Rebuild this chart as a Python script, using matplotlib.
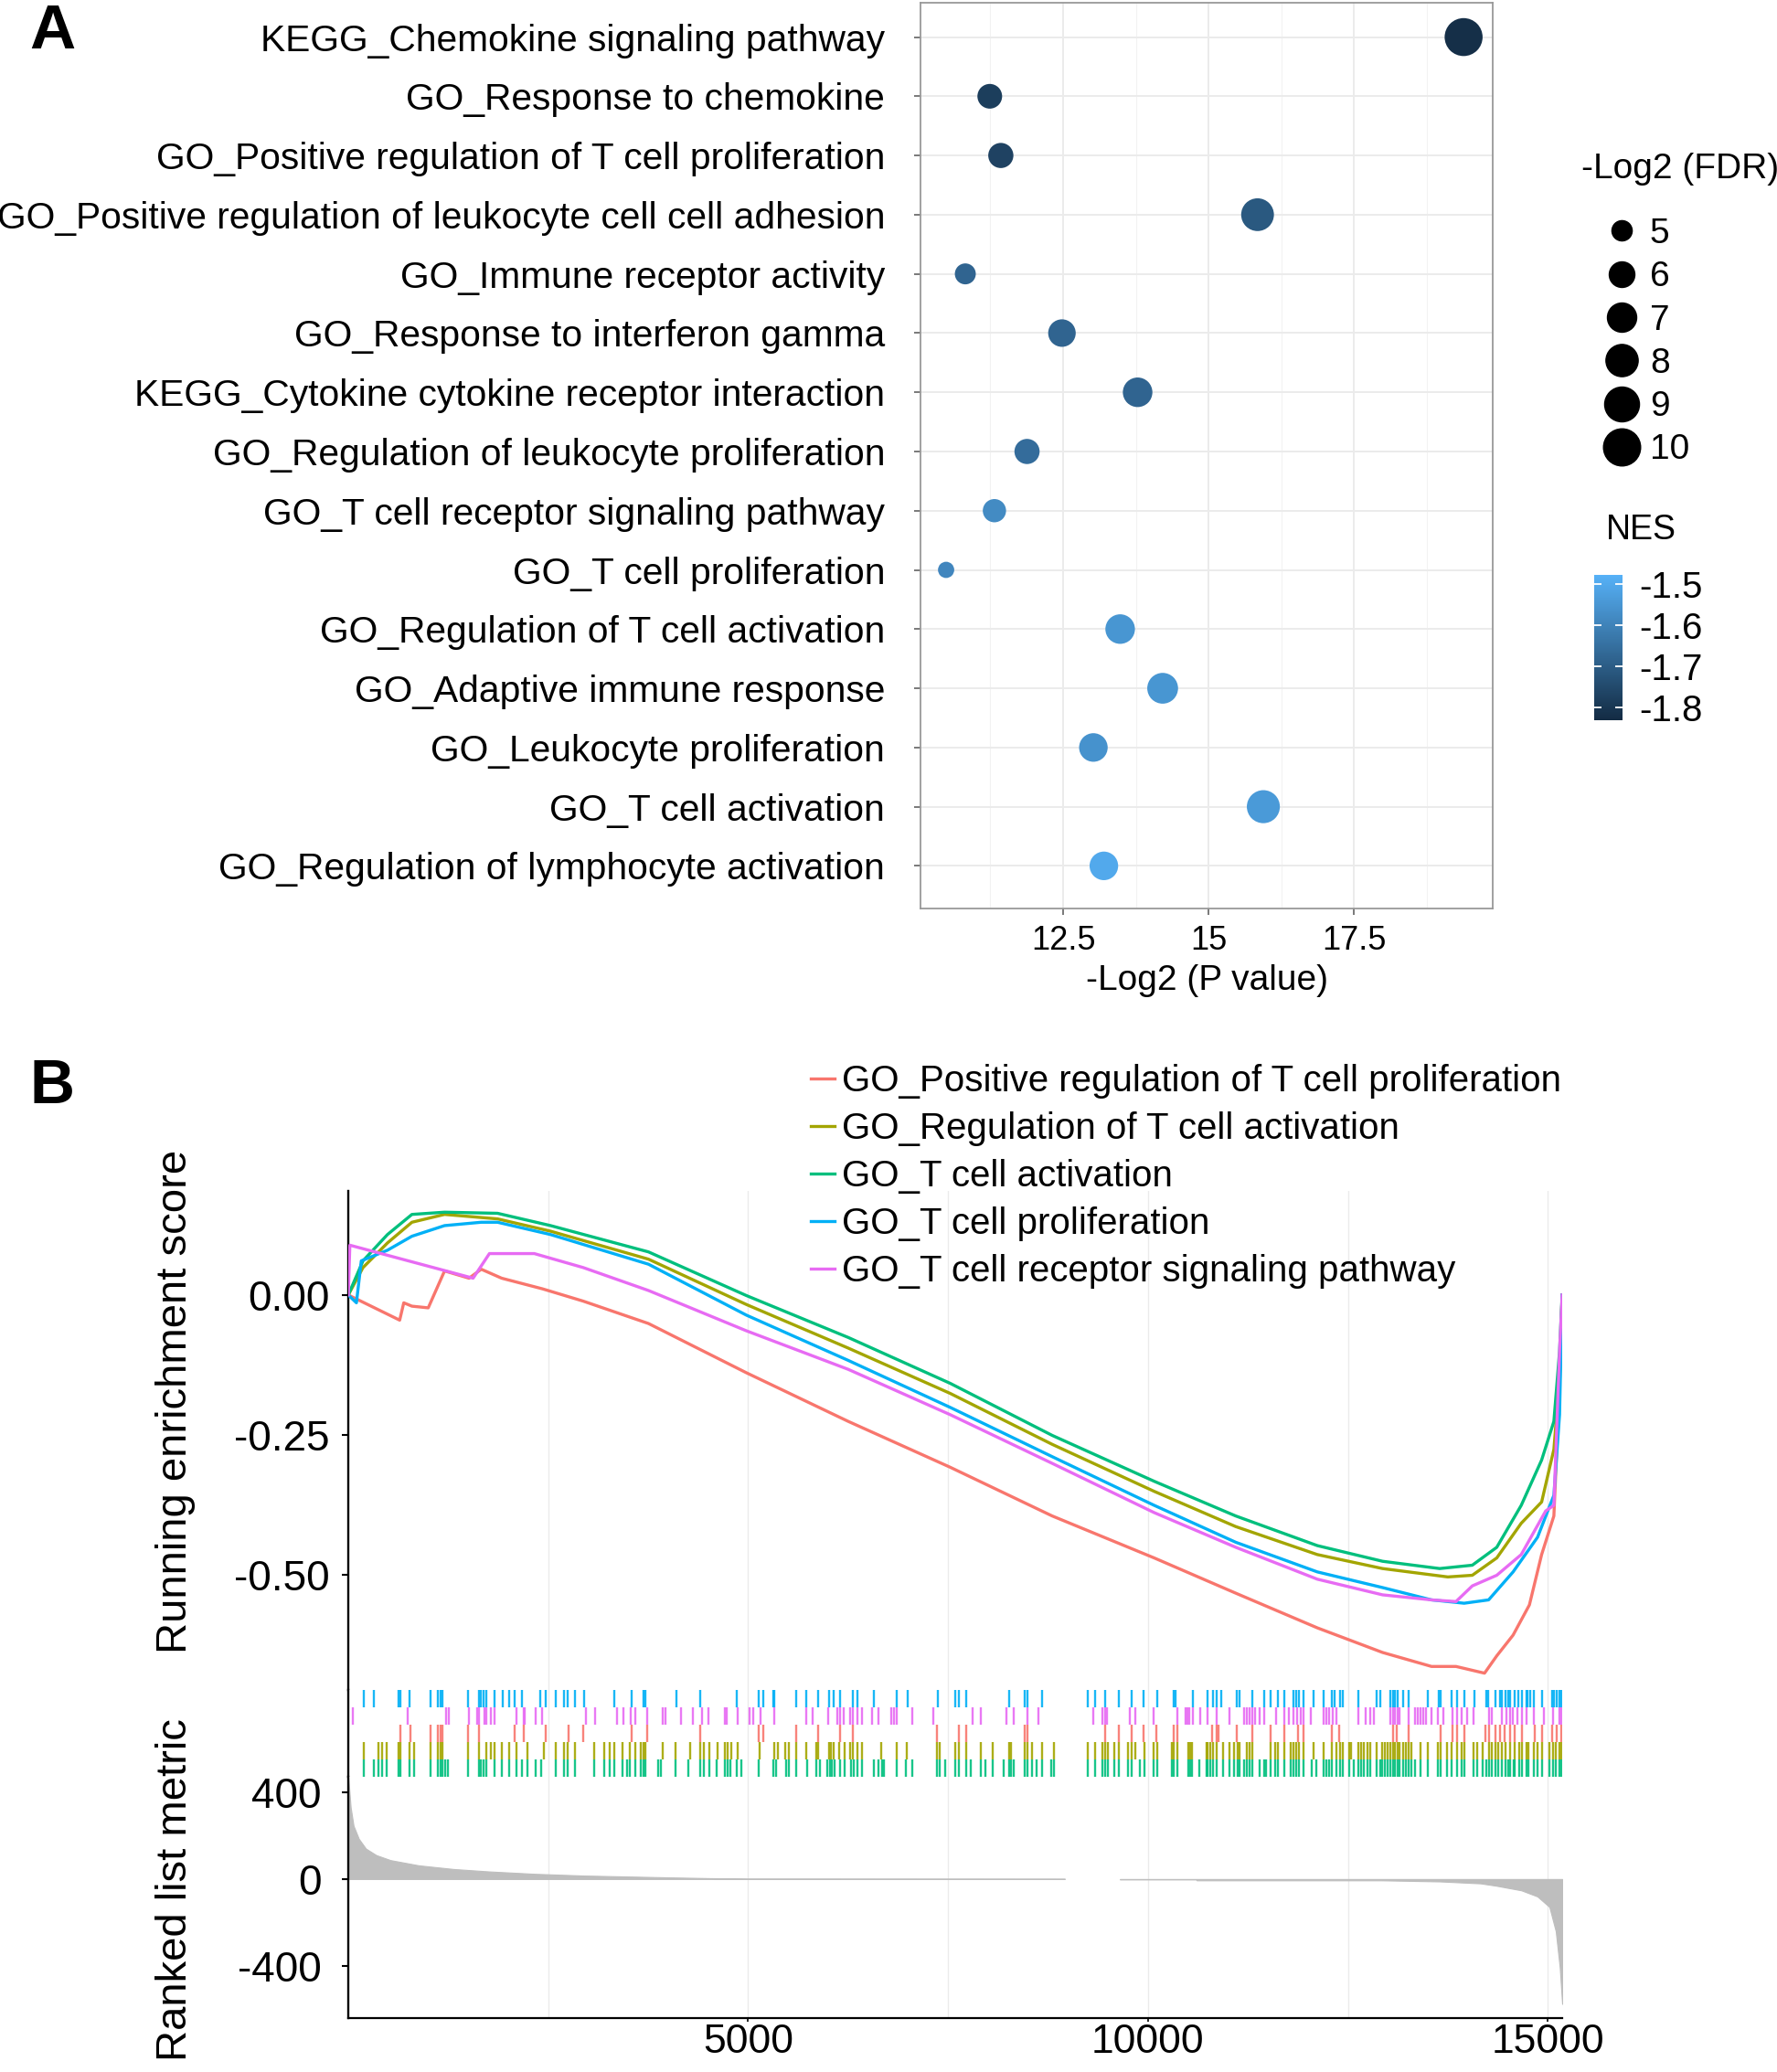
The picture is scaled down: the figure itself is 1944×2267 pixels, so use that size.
"""
GSEA summary figure: (A) bubble plot of enriched gene sets,
(B) running enrichment score curves with hit barcodes and ranked list metric.
"""

import numpy as np
import matplotlib
matplotlib.use("Agg")
import matplotlib.pyplot as plt
from matplotlib.colors import LinearSegmentedColormap, Normalize
from matplotlib.cm import ScalarMappable
from matplotlib.lines import Line2D

plt.rcParams["font.family"] = ["Liberation Sans", "DejaVu Sans"]
plt.rcParams["axes.unicode_minus"] = False

# ---------------------------------------------------------------------------
# PANEL A DATA
# ---------------------------------------------------------------------------

TERMS = [
    "KEGG_Chemokine signaling pathway",
    "GO_Response to chemokine",
    "GO_Positive regulation of T cell proliferation",
    "GO_Positive regulation of leukocyte cell cell adhesion",
    "GO_Immune receptor activity",
    "GO_Response to interferon gamma",
    "KEGG_Cytokine cytokine receptor interaction",
    "GO_Regulation of leukocyte proliferation",
    "GO_T cell receptor signaling pathway",
    "GO_T cell proliferation",
    "GO_Regulation of T cell activation",
    "GO_Adaptive immune response",
    "GO_Leukocyte proliferation",
    "GO_T cell activation",
    "GO_Regulation of lymphocyte activation",
]
NEG_LOG2_P = [19.38, 11.24, 11.43, 15.84, 10.82, 12.48, 13.78, 11.88,
              11.32, 10.49, 13.48, 14.21, 13.02, 15.94, 13.20]
NEG_LOG2_FDR = [10.4, 5.8, 5.9, 8.2, 5.1, 6.5, 7.1, 5.9,
                5.5, 4.6, 7.1, 7.5, 6.8, 8.3, 6.8]
NES = [-1.82, -1.78, -1.77, -1.71, -1.68, -1.68, -1.68, -1.66,
       -1.58, -1.59, -1.55, -1.55, -1.56, -1.54, -1.50]

FDR_LEGEND = [5, 6, 7, 8, 9, 10]
NES_TICKS = [-1.5, -1.6, -1.7, -1.8]
P_TICKS = [12.5, 15, 17.5]
P_TICK_LABELS = ["12.5", "15", "17.5"]

# ---------------------------------------------------------------------------
# PANEL B DATA
# ---------------------------------------------------------------------------

GENE_SETS = [
    "GO_Positive regulation of T cell proliferation",
    "GO_Regulation of T cell activation",
    "GO_T cell activation",
    "GO_T cell proliferation",
    "GO_T cell receptor signaling pathway",
]
SET_COLORS = ["#F8766D", "#A3A500", "#00BF7D", "#00B0F6", "#E76BF3"]

# running enrichment score, read at knots along the ranked list
RANK_RED = [0, 643, 694, 796, 1000, 1204, 1510, 1663, 1918, 2428, 2938, 3754,
            4978, 6253, 7528, 8803, 10078, 11098, 12118, 12934, 13546, 13852,
            14209, 14362, 14566, 14770, 14923, 15076, 15147, 15180]
ES_RED = [0, -0.045, -0.014, -0.020, -0.023, 0.043, 0.030, 0.046, 0.030, 0.011,
          -0.011, -0.051, -0.139, -0.226, -0.308, -0.395, -0.470, -0.533,
          -0.595, -0.639, -0.664, -0.664, -0.676, -0.645, -0.608, -0.554,
          -0.464, -0.395, -0.164, 0]

RANK_OLIVE = [0, 184, 490, 796, 1204, 1867, 2530, 3754, 4978, 6253, 7528, 8803,
              10078, 11098, 12118, 12934, 13750, 14056, 14362, 14668, 14923,
              15076, 15147, 15180]
ES_OLIVE = [0, 0.049, 0.093, 0.130, 0.144, 0.136, 0.114, 0.064, -0.017, -0.095,
            -0.176, -0.267, -0.351, -0.414, -0.464, -0.489, -0.504, -0.501,
            -0.470, -0.408, -0.370, -0.276, -0.151, 0]

RANK_GREEN = [0, 184, 490, 796, 1204, 1867, 2530, 3754, 4978, 6253, 7528, 8803,
              10078, 11098, 12118, 12934, 13648, 14056, 14362, 14668, 14923,
              15076, 15147, 15180]
ES_GREEN = [0, 0.061, 0.108, 0.144, 0.148, 0.146, 0.124, 0.077, -0.001, -0.076,
            -0.158, -0.251, -0.333, -0.395, -0.448, -0.476, -0.489, -0.483,
            -0.451, -0.376, -0.295, -0.226, -0.101, 0]

RANK_BLUE = [0, 102, 163, 490, 796, 1204, 1663, 1867, 2530, 3754, 4978, 6253,
             7528, 8803, 10078, 11098, 12118, 12934, 13546, 13954, 14260, 14566,
             14872, 15076, 15147, 15180]
ES_BLUE = [0, -0.014, 0.061, 0.080, 0.105, 0.124, 0.130, 0.130, 0.108, 0.055,
           -0.036, -0.117, -0.201, -0.289, -0.376, -0.442, -0.495, -0.523,
           -0.545, -0.551, -0.545, -0.495, -0.433, -0.358, -0.214, 0]

RANK_PINK = [0, 20, 1561, 1765, 2326, 2938, 3754, 4978, 6253, 7528, 8803, 10078,
             11098, 12118, 12934, 13546, 13852, 14056, 14362, 14668, 14974,
             15076, 15147, 15180]
ES_PINK = [0, 0.089, 0.030, 0.074, 0.074, 0.049, 0.008, -0.064, -0.133, -0.214,
           -0.301, -0.389, -0.451, -0.508, -0.536, -0.545, -0.548, -0.520,
           -0.501, -0.464, -0.386, -0.376, -0.101, 0]

# gene-set member positions in the ranked list (barcode)
HITS_RED = [
    650, 780, 1030, 1120, 1150, 1180, 1500, 1630, 2080, 2190, 2470, 2750, 2940,
    3540, 3740, 4400, 5130, 5190, 5600, 5880, 6150, 6310, 7360, 7640, 7730,
    8460, 8490, 9470, 9640, 9800, 9940, 10110, 10320, 10370, 10800, 10860,
    10880, 11110, 11300, 11530, 11700, 11880, 11940, 12300, 12390, 13060,
    13110, 13260, 13660, 13810, 13860, 13960, 14220, 14260, 14350, 14400,
    14460, 14530, 14590, 14680, 14840, 14930, 15050, 15110, 15170,
]
HITS_OLIVE = [
    200, 380, 420, 480, 630, 650, 770, 820, 1030, 1120, 1150, 1180, 1500, 1630,
    1730, 1780, 1830, 1920, 2010, 2100, 2240, 2450, 2600, 2700, 2740, 2840,
    3070, 3200, 3270, 3330, 3430, 3520, 3590, 3660, 3690, 3720,
    3930, 4090, 4270, 4400, 4450, 4520, 4620, 4710, 4740, 4790, 4870, 5140,
    5330, 5370, 5460, 5510, 5600, 5730, 5850, 5880, 6010, 6040, 6070, 6140,
    6210, 6280, 6310, 6370, 6420, 6660, 6860, 6980, 7360, 7400,
    7590, 7640, 7730, 7910, 8060, 8260, 8290, 8460, 8490, 8550, 8680, 8830,
    9250, 9340, 9430, 9470, 9500, 9580, 9640, 9750, 9800, 9840, 9960, 10070,
    10120, 10300, 10320, 10370, 10500, 10530, 10550, 10730, 10750, 10780,
    10810, 10860, 10940, 11020, 11080, 11120, 11140, 11240, 11270, 11300,
    11530, 11590, 11630, 11700, 11780, 11820, 11850, 11890, 11940, 12070,
    12200, 12300, 12360, 12400, 12440, 12520, 12540, 12630, 12660, 12700,
    12740, 12780, 12860, 12930, 12960, 13000, 13030, 13060, 13090, 13120,
    13150, 13190, 13230, 13260, 13290, 13410, 13500, 13620, 13660, 13740,
    13800, 13860, 13920, 13960, 14070, 14120, 14190, 14260, 14300, 14340,
    14380, 14430, 14470, 14530, 14590, 14640, 14680, 14730, 14760, 14830,
    14870, 14930, 15020, 15060, 15100, 15140, 15170,
]
HITS_GREEN = [
    200, 320, 380, 420, 480, 630, 650, 770, 820, 1030, 1120, 1150, 1180, 1210,
    1250, 1500, 1630, 1660, 1690, 1730, 1830, 1920, 2010, 2100, 2170, 2240,
    2340, 2410, 2600, 2700, 2740, 2840, 3070, 3200, 3270, 3330, 3430, 3490,
    3520, 3590, 3660, 3690, 3720,
    3880, 3910, 4090, 4250, 4400, 4450, 4520, 4610, 4710, 4740, 4780, 4860,
    4920, 5130, 5310, 5350, 5470, 5510, 5600, 5740, 5850, 5900, 5990, 6020,
    6050, 6080, 6150, 6210, 6290, 6320, 6370, 6420, 6570, 6630, 6670, 6700,
    6860, 6970, 7050, 7360, 7390, 7460,
    7590, 7640, 7730, 7780, 7910, 7970, 8060, 8200, 8260, 8290, 8320, 8460,
    8490, 8550, 8610, 8680, 8790, 8820, 9250, 9340, 9430, 9470, 9500, 9580,
    9640, 9750, 9800, 9900, 9960, 10070, 10120, 10300, 10320, 10370, 10500,
    10530, 10550, 10640, 10730, 10750, 10780, 10810, 10860, 10940, 11020,
    11080, 11120, 11140, 11200, 11240, 11270, 11300,
    11400, 11450, 11480, 11530, 11590, 11630, 11700, 11780, 11820, 11850,
    11890, 11940, 12050, 12100, 12200, 12230, 12270, 12300, 12360, 12400,
    12440, 12520, 12570, 12630, 12660, 12700, 12740, 12780, 12860, 12900,
    12930, 12960, 13000, 13030, 13060, 13090, 13120, 13150, 13190, 13230,
    13260, 13290, 13340, 13410, 13500, 13620, 13660, 13740, 13800, 13860,
    13920, 13960, 14070, 14120, 14190, 14230, 14260, 14300, 14340, 14380,
    14430, 14470, 14500, 14530, 14570, 14590, 14640, 14680, 14730, 14760,
    14830, 14870, 14930, 15020, 15060, 15100, 15140, 15170,
]
HITS_BLUE = [
    200, 320, 630, 650, 770, 1030, 1120, 1150, 1180, 1500, 1630, 1660, 1690,
    1730, 1830, 1930, 2010, 2080, 2170, 2400, 2470, 2590, 2700, 2740, 2840,
    2950, 3330, 3540, 3690, 3720,
    4100, 4400, 4860, 5130, 5190, 5310, 5330, 5600, 5730, 5880, 6010, 6070,
    6150, 6310, 6370, 6570, 6860, 6990, 7370,
    7590, 7640, 7730, 8260, 8460, 8490, 8680, 9250, 9340, 9460, 9640, 9800,
    9950, 10120, 10320, 10340, 10560, 10750, 10810, 10860, 10920, 11110,
    11140, 11300,
    11450, 11530, 11630, 11700, 11820, 11850, 11890, 11940, 12070, 12200,
    12300, 12330, 12400, 12440, 12630, 12860, 12900, 13030, 13060, 13090,
    13120, 13190, 13260, 13500, 13640, 13660, 13800, 13860, 13960, 14080,
    14230, 14250, 14350, 14400, 14430, 14470, 14500, 14530, 14590, 14630,
    14680, 14730, 14750, 14780, 14830, 14930, 15050, 15080, 15110, 15140,
    15170,
]
HITS_PINK = [
    60, 740, 1220, 1260, 1510, 1610, 1630, 1700, 1730, 1780, 1830, 2100, 2190,
    2210, 2340, 2420, 2970, 3090, 3360, 3440, 3530, 3590, 3740,
    3930, 3970, 4160, 4310, 4420, 4500, 4710, 4730, 4870, 5020, 5060, 5160,
    5330, 5730, 5810, 6000, 6120, 6150, 6190, 6280, 6310, 6370, 6420, 6550,
    6630, 6790, 6820, 6860, 7050, 7310,
    7810, 7910, 8230, 8320, 8490, 8630, 9320, 9430, 9470, 9490, 9770, 9840,
    10070, 10370, 10470, 10490, 10520, 10560, 10650, 10750, 10860, 11020,
    11200, 11240, 11270, 11300,
    11340, 11400, 11450, 11600, 11700, 11760, 11820, 11860, 11910, 11940,
    12040, 12200, 12230, 12270, 12310, 12360, 12630, 12720, 12780, 12820,
    13030, 13060, 13090, 13120, 13150, 13260, 13340, 13370, 13410, 13440,
    13480, 13540, 13620, 13690, 13810, 13860, 13920, 13990, 14070, 14270,
    14300, 14430, 14480, 14530, 14560, 14620, 14680, 14730, 14830, 14950,
    15060, 15140, 15170,
]

# ranked list metric (two runs; nothing plotted in the gap between them)
RANK_UP = [0, 30, 66, 132, 220, 350, 527, 880, 1318, 1757, 2330, 2940, 3960,
           4520, 5000, 8960]
METRIC_UP = [468, 330, 245, 185, 140, 110, 87, 63, 46, 35, 24, 16, 8, 4, 2, 1.5]
RANK_DOWN = [9650, 10600, 10610, 12930, 13650, 14160, 14360, 14670, 14870,
             15020, 15100, 15150, 15180]
METRIC_DOWN = [-2, -2, -6, -6, -11, -20, -31, -52, -80, -128, -240, -407, -574]

N_GENES = 15180
ES_TICKS = [0.0, -0.25, -0.5]
METRIC_TICKS = [400, 0, -400]
RANK_TICKS = [5000, 10000, 15000]

# ---------------------------------------------------------------------------
# LAYOUT HELPERS
# ---------------------------------------------------------------------------

W, H, DPI = 1944, 2267, 100


def rect(left, top, right, bottom):
    """Pixel box (top-left origin) -> figure fraction rect."""
    return [left / W, 1 - bottom / H, (right - left) / W, (bottom - top) / H]


def fdr_to_pt(v):
    """ggplot-style area scaling of -log2(FDR) to marker diameter (points)."""
    diam_px = 14.2 + 11.25 * np.sqrt(np.asarray(v, dtype=float) - 4.5)
    return diam_px * 72 / DPI


fig = plt.figure(figsize=(W / DPI, H / DPI), dpi=DPI)

# ---------------------------------------------------------------------------
# PANEL A
# ---------------------------------------------------------------------------

nes_cmap = LinearSegmentedColormap.from_list("nes", ["#132B43", "#56B1F7"])
nes_norm = Normalize(vmin=-1.831, vmax=-1.478)

ax_a = fig.add_axes(rect(1007, 3, 1633, 994))
ypos = np.arange(len(TERMS))
ax_a.scatter(NEG_LOG2_P, ypos, s=fdr_to_pt(NEG_LOG2_FDR) ** 2,
             c=NES, cmap=nes_cmap, norm=nes_norm, linewidths=0, zorder=3)
ax_a.set_xlim(10.05, 19.88)
ax_a.set_ylim(len(TERMS) - 1 + 0.72, -0.58)
ax_a.set_yticks(ypos)
ax_a.set_yticklabels(TERMS, fontsize=29.3)
ax_a.set_xticks(P_TICKS)
ax_a.set_xticklabels(P_TICK_LABELS, fontsize=26)
ax_a.set_xticks([11.25, 13.75, 16.25, 18.75], minor=True)
ax_a.grid(True, which="major", color="#EBEBEB", linewidth=1.4, zorder=0)
ax_a.grid(True, which="minor", axis="x", color="#F2F2F2", linewidth=0.8, zorder=0)
ax_a.set_axisbelow(True)
ax_a.tick_params(axis="y", length=5, width=1.1, color="#555555", pad=23)
ax_a.tick_params(axis="x", length=5, width=1.1, color="#555555", pad=8)
ax_a.tick_params(which="minor", length=0)
for sp in ax_a.spines.values():
    sp.set_color("#999999")
    sp.set_linewidth(1.3)
ax_a.set_xlabel("-Log2 (P value)", fontsize=28, labelpad=6)

# size legend
size_handles = [Line2D([], [], ls="none", marker="o", color="black",
                       markersize=fdr_to_pt(v)) for v in FDR_LEGEND]
fig.text(1730 / W, 1 - 185 / H, "-Log2 (FDR)", fontsize=28, va="center", ha="left")
fig.legend(size_handles, [str(v) for v in FDR_LEGEND], loc="upper left",
           bbox_to_anchor=(1755 / W, 1 - 238 / H), bbox_transform=fig.transFigure,
           frameon=False, fontsize=28, handlelength=1.0, handletextpad=0.28,
           labelspacing=0.29, borderpad=0, borderaxespad=0)

# colour bar
fig.text(1757 / W, 1 - 580 / H, "NES", fontsize=27, va="center", ha="left")
cax = fig.add_axes(rect(1744, 629, 1775, 788))
cbar = fig.colorbar(ScalarMappable(norm=nes_norm, cmap=nes_cmap), cax=cax,
                    ticks=NES_TICKS)
cbar.outline.set_visible(False)
cax.tick_params(labelsize=29, length=6, width=1.3, color="white",
                direction="in", pad=13, left=True, right=True,
                labelleft=False, labelright=True)

fig.text(32 / W, 1 - 3 / H, "A", fontsize=50, fontweight="bold",
         ha="left", va="top")

# ---------------------------------------------------------------------------
# PANEL B
# ---------------------------------------------------------------------------

ax_es = fig.add_axes(rect(381, 1303, 1709, 1849))
ax_bc = fig.add_axes(rect(381, 1849, 1709, 1944), sharex=ax_es)
ax_rk = fig.add_axes(rect(381, 1944, 1709, 2208), sharex=ax_es)

es_curves = [(RANK_RED, ES_RED), (RANK_OLIVE, ES_OLIVE), (RANK_GREEN, ES_GREEN),
             (RANK_BLUE, ES_BLUE), (RANK_PINK, ES_PINK)]
lines = []
for (rk, es), name, col in zip(es_curves, GENE_SETS, SET_COLORS):
    ln, = ax_es.plot(rk, es, color=col, linewidth=2.4, label=name, zorder=3)
    lines.append(ln)

ax_es.set_xlim(0, N_GENES)
ax_es.set_ylim(-0.706, 0.186)
ax_es.set_yticks(ES_TICKS)
ax_es.set_yticklabels([f"{t:.2f}" for t in ES_TICKS], fontsize=33)
ax_es.tick_params(axis="y", length=5, width=1.5, pad=9.5)
ax_es.tick_params(axis="x", which="both", bottom=False, labelbottom=False)

# barcode rows, top to bottom: proliferation, TCR, pos. reg., reg., activation
hits = [HITS_RED, HITS_OLIVE, HITS_GREEN, HITS_BLUE, HITS_PINK]
row_of = [2, 1, 0, 4, 3]
for h, row, col in zip(hits, row_of, SET_COLORS):
    ax_bc.vlines(np.unique(h), row, row + 1, color=col, linewidth=1.7, alpha=0.9)
ax_bc.set_ylim(0, 5)
ax_bc.set_yticks([])
ax_bc.tick_params(axis="x", which="both", bottom=False, labelbottom=False)

ax_rk.fill_between(RANK_UP, 0, METRIC_UP, color="#BEBEBE", linewidth=0.8,
                   edgecolor="#BEBEBE")
ax_rk.fill_between(RANK_DOWN, 0, METRIC_DOWN, color="#BEBEBE", linewidth=0.8,
                   edgecolor="#BEBEBE")
ax_rk.set_ylim(-639, 470)
ax_rk.set_yticks(METRIC_TICKS)
ax_rk.set_yticklabels([str(t) for t in METRIC_TICKS], fontsize=33)
ax_rk.tick_params(axis="y", length=5, width=1.5, pad=16)
ax_rk.set_xticks(RANK_TICKS)
ax_rk.set_xticklabels([str(t) for t in RANK_TICKS], fontsize=32)
ax_rk.tick_params(axis="x", length=3, width=1.2, pad=1.5)

for ax in (ax_es, ax_bc, ax_rk):
    ax.set_xticks([2500, 7500, 12500], minor=True)
    ax.grid(True, axis="x", which="both", color="#EBEBEB", linewidth=1.0, zorder=0)
    ax.set_axisbelow(True)
    ax.tick_params(which="minor", length=0)
    for side in ("top", "right", "bottom"):
        ax.spines[side].set_visible(False)
    ax.spines["left"].set_linewidth(1.7)
ax_rk.spines["bottom"].set_visible(True)
ax_rk.spines["bottom"].set_linewidth(1.6)

fig.text(192 / W, 1 - 1533 / H, "Running enrichment score", fontsize=34,
         rotation=90, ha="center", va="center")
fig.text(192 / W, 1 - 2068 / H, "Ranked list metric", fontsize=34,
         rotation=90, ha="center", va="center")

fig.legend(lines, GENE_SETS, loc="upper left",
           bbox_to_anchor=(887 / W, 1 - 1164 / H), bbox_transform=fig.transFigure,
           frameon=False, fontsize=29, handlelength=0.65, handletextpad=0.2,
           labelspacing=0.35, borderpad=0, borderaxespad=0)

fig.text(32 / W, 1 - 1157 / H, "B", fontsize=49, fontweight="bold",
         ha="left", va="top")

fig.savefig("out.png", dpi=DPI)
